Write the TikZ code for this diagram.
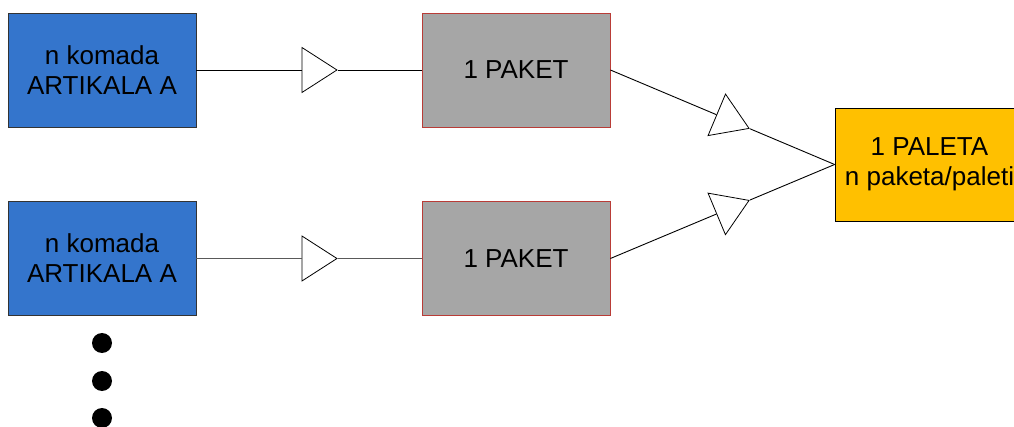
\documentclass[tikz,border=0pt]{standalone}
\usepackage{fontspec}
\setmainfont{Liberation Sans}
\usetikzlibrary{shapes.geometric}
\definecolor{boxblue}{RGB}{52,117,204}
\definecolor{boxgray}{RGB}{166,166,166}
\definecolor{boxred}{RGB}{185,60,55}
\definecolor{boxyellow}{RGB}{255,192,0}
\tikzset{
  artbox/.style={draw=black!80, fill=boxblue, line width=0.8pt, minimum width=188pt, minimum height=114pt, inner sep=0pt, align=center, font=\fontsize{26}{30}\selectfont},
  pakbox/.style={draw=boxred, fill=boxgray, line width=0.8pt, minimum width=188pt, minimum height=114pt, inner sep=0pt, align=center, font=\fontsize{26}{30}\selectfont},
  palbox/.style={draw=black, fill=boxyellow, line width=0.8pt, minimum width=189pt, minimum height=113pt, inner sep=0pt, align=center, font=\fontsize{26}{30}\selectfont},
  tri/.style={isosceles triangle, isosceles triangle stretches, draw=black, fill=white, line width=0.8pt, minimum width=45pt, minimum height=35pt, inner sep=0pt},
  conn/.style={line width=0.9pt},
  dot/.style={circle, fill=black, minimum size=20pt, inner sep=0pt}
}
\begin{document}
\begin{tikzpicture}[x=1pt,y=-1pt]
\clip (0,0) rectangle (1014,427);
\fill[white] (0,0) rectangle (1014,427);
\node[artbox] (a1) at (102,70) {n komada\\ARTIKALA A};
\node[artbox] (a2) at (102,258.5) {n komada\\ARTIKALA A};
\node[pakbox] (p1) at (516,70) {1 PAKET};
\node[pakbox] (p2) at (516,258.5) {1 PAKET};
\node[palbox] (pal) at (929.5,164.5) {1 PALETA\\n paketa/paleti};
\node[tri, anchor=apex] (t1) at (338,70) {};
\node[tri, anchor=apex] (t2) at (338,258.5) {};
\node[tri, anchor=apex, rotate=-22.8] (t3) at (750,128.8) {};
\node[tri, anchor=apex, rotate=22.7] (t4) at (750,200) {};
\draw[conn] (a1.east) -- (t1.lower side);
\draw[conn] (t1.apex) -- (p1.west);
\draw[conn, black!65] (a2.east) -- (t2.lower side);
\draw[conn, black!65] (t2.apex) -- (p2.west);
\draw[conn] (p1.east) -- (t3.lower side);
\draw[conn] (t3.apex) -- (pal.west);
\draw[conn] (p2.east) -- (t4.lower side);
\draw[conn] (t4.apex) -- (pal.west);
\node[dot] (d1) at (102,343) {};
\node[dot] (d2) at (102,381) {};
\node[dot] (d3) at (102,418) {};
\end{tikzpicture}
\end{document}
